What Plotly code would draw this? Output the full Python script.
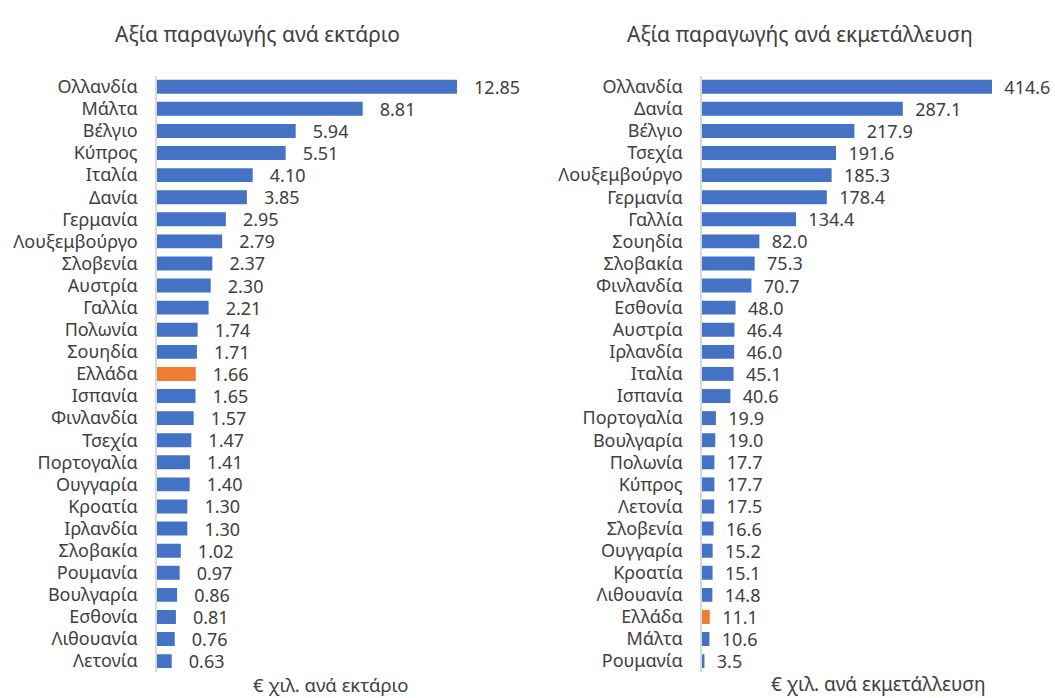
import plotly.graph_objects as go

left_countries = ["Ολλανδία", "Μάλτα", "Βέλγιο", "Κύπρος", "Ιταλία", "Δανία", "Γερμανία",
                  "Λουξεμβούργο", "Σλοβενία", "Αυστρία", "Γαλλία", "Πολωνία", "Σουηδία",
                  "Ελλάδα", "Ισπανία", "Φινλανδία", "Τσεχία", "Πορτογαλία", "Ουγγαρία",
                  "Κροατία", "Ιρλανδία", "Σλοβακία", "Ρουμανία", "Βουλγαρία", "Εσθονία",
                  "Λιθουανία", "Λετονία"]
left_values = [12.85, 8.81, 5.94, 5.51, 4.10, 3.85, 2.95, 2.79, 2.37, 2.30, 2.21, 1.74, 1.71,
               1.66, 1.65, 1.57, 1.47, 1.41, 1.40, 1.30, 1.30, 1.02, 0.97, 0.86, 0.81, 0.76, 0.63]

right_countries = ["Ολλανδία", "Δανία", "Βέλγιο", "Τσεχία", "Λουξεμβούργο", "Γερμανία",
                   "Γαλλία", "Σουηδία", "Σλοβακία", "Φινλανδία", "Εσθονία", "Αυστρία",
                   "Ιρλανδία", "Ιταλία", "Ισπανία", "Πορτογαλία", "Βουλγαρία", "Πολωνία",
                   "Κύπρος", "Λετονία", "Σλοβενία", "Ουγγαρία", "Κροατία", "Λιθουανία",
                   "Ελλάδα", "Μάλτα", "Ρουμανία"]
right_values = [414.6, 287.1, 217.9, 191.6, 185.3, 178.4, 134.4, 82.0, 75.3, 70.7, 48.0, 46.4,
                46.0, 45.1, 40.6, 19.9, 19.0, 17.7, 17.7, 17.5, 16.6, 15.2, 15.1, 14.8,
                11.1, 10.6, 3.5]

titles = ["Αξία παραγωγής ανά εκτάριο", "Αξία παραγωγής ανά εκμετάλλευση"]
axis_titles = ["€ χιλ. ανά εκτάριο", "€ χιλ. ανά εκμετάλλευση"]
highlight = "Ελλάδα"

BLUE = "#4472C4"
ORANGE = "#ED7D31"
TXT = "#404040"
FONT = "Noto Sans"
NB = "\u00a0"
FS = 18

fig = go.Figure()


def colors(cats):
    return [ORANGE if c == highlight else BLUE for c in cats]


fig.add_trace(go.Bar(
    x=left_values, y=left_countries, orientation="h",
    marker=dict(color=colors(left_countries), line=dict(width=0)),
    text=[f"{v:.2f}" for v in left_values], texttemplate=NB * 3 + "%{text}",
    textposition="outside", cliponaxis=False, constraintext="none",
    textfont=dict(color=TXT, size=FS, family=FONT),
    xaxis="x", yaxis="y", hoverinfo="x+y",
))
fig.add_trace(go.Bar(
    x=right_values, y=right_countries, orientation="h",
    marker=dict(color=colors(right_countries), line=dict(width=0)),
    text=[f"{v:.1f}" for v in right_values], texttemplate=NB * 2 + "%{text}",
    textposition="outside", cliponaxis=False, constraintext="none",
    textfont=dict(color=TXT, size=FS, family=FONT),
    xaxis="x2", yaxis="y2", hoverinfo="x+y",
))

# body margin is removed below, so the figure fills the 1055x698 window
W, H = 1055, 698
ydom = [1 - 672.1 / H, 1 - 73.9 / H]

xcommon = dict(showgrid=False, zeroline=False, showticklabels=False, showline=False, ticks="", fixedrange=True)
ycommon = dict(showgrid=False, zeroline=False, showline=True, linecolor="#D9D9D9", linewidth=1.5,
               ticks="", tickfont=dict(color=TXT, size=FS, family=FONT), autorange="reversed",
               ticklabelstandoff=14, domain=ydom, fixedrange=True)

lscale = 300 / 12.85
rscale = 290 / 414.6
fig.update_layout(
    width=W, height=H,
    margin=dict(l=0, r=0, t=0, b=0),
    paper_bgcolor="white", plot_bgcolor="white",
    showlegend=False, bargap=0.37,
    font=dict(family=FONT, color=TXT),
    xaxis=dict(domain=[157 / W, (157 + 14 * lscale) / W], range=[0, 14], **xcommon),
    yaxis=dict(anchor="x", **ycommon),
    xaxis2=dict(domain=[702 / W, (702 + 450 * rscale) / W], range=[0, 450], anchor="y2", **xcommon),
    yaxis2=dict(anchor="x2", **ycommon),
)

for cx, t in zip([257, 800], titles):
    fig.add_annotation(text=t, x=cx / W, y=1 - 32 / H, xref="paper", yref="paper",
                       showarrow=False, font=dict(size=21, color=TXT, family=FONT),
                       xanchor="center", yanchor="middle")
for cx, at, fs in zip([331, 878], axis_titles, [18.5, 19]):
    fig.add_annotation(text=at, x=cx / W, y=1 - 684 / H, xref="paper", yref="paper",
                       showarrow=False, font=dict(size=fs, color=TXT, family=FONT),
                       xanchor="center", yanchor="middle")

fig.write_html("out.html", config={"displayModeBar": False},
               post_script="document.body.style.margin='0';document.body.style.overflow='hidden';")
